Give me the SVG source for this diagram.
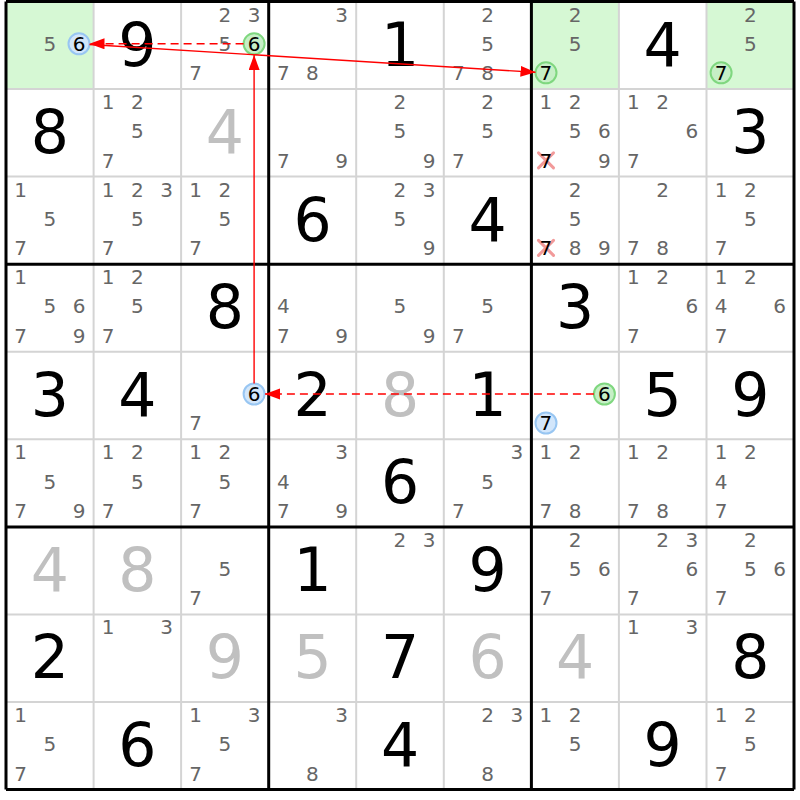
<svg xmlns="http://www.w3.org/2000/svg" width="800" height="800" viewBox="0 0 800 800">
<defs>
<style>
.c{font-family:"DejaVu Sans",Verdana,sans-serif;font-size:20px;fill:#666;text-anchor:middle}
.k{fill:#000}
.g{font-family:"DejaVu Sans",Verdana,sans-serif;font-size:60px;fill:#000;text-anchor:middle}
.s{fill:#c0c0c0}
.hl{fill:#d6f8d4}
.cb{fill:#d2e6fb;stroke:#98c6f2;stroke-width:2}
.cg{fill:#c6efc6;stroke:#7fd77f;stroke-width:2}
.x{stroke:#f29a9a;stroke-width:3;fill:none;stroke-linecap:round}
.thin{stroke:#d4d4d4;stroke-width:2}
.thick{stroke:#000;stroke-width:3}
.ar{stroke:#ff0000;stroke-width:1.4;fill:none;marker-end:url(#ah)}
.d{stroke-dasharray:8 5}
</style>
<marker id="ah" markerUnits="userSpaceOnUse" markerWidth="16" markerHeight="12" refX="15" refY="5.5" orient="auto"><path d="M0,0 L15,5.5 L0,11 z" fill="#ff0000"/></marker>
</defs>
<rect width="800" height="800" fill="#fff"/>
<g id="cells">
<!-- Row 1 -->
<g id="r1c1" transform="translate(6,1.5)"><rect class="hl" width="87.6" height="87.6"/><text class="c" x="43.8" y="49.3">5</text><circle class="cb" cx="73" cy="42.3" r="10.5"/><text class="c k" x="73" y="49.3">6</text></g>
<g id="r1c2" transform="translate(93.6,1.5)"><text class="g" x="43.8" y="64">9</text></g>
<g id="r1c3" transform="translate(181.1,1.5)"><text class="c" x="43.8" y="20.1">2</text><text class="c" x="73" y="20.1">3</text><text class="c" x="43.8" y="49.3">5</text><circle class="cg" cx="73" cy="42.3" r="10.5"/><text class="c k" x="73" y="49.3">6</text><text class="c" x="14.6" y="78.5">7</text></g>
<g id="r1c4" transform="translate(268.7,1.5)"><text class="c" x="73" y="20.1">3</text><text class="c" x="14.6" y="78.5">7</text><text class="c" x="43.8" y="78.5">8</text></g>
<g id="r1c5" transform="translate(356.2,1.5)"><text class="g" x="43.8" y="64">1</text></g>
<g id="r1c6" transform="translate(443.8,1.5)"><text class="c" x="43.8" y="20.1">2</text><text class="c" x="43.8" y="49.3">5</text><text class="c" x="14.6" y="78.5">7</text><text class="c" x="43.8" y="78.5">8</text></g>
<g id="r1c7" transform="translate(531.4,1.5)"><rect class="hl" width="87.6" height="87.6"/><text class="c" x="43.8" y="20.1">2</text><text class="c" x="43.8" y="49.3">5</text><circle class="cg" cx="14.6" cy="71.3" r="10.5"/><text class="c k" x="14.6" y="78.5">7</text></g>
<g id="r1c8" transform="translate(618.9,1.5)"><text class="g" x="43.8" y="64">4</text></g>
<g id="r1c9" transform="translate(706.5,1.5)"><rect class="hl" width="87.6" height="87.6"/><text class="c" x="43.8" y="20.1">2</text><text class="c" x="43.8" y="49.3">5</text><circle class="cg" cx="14.6" cy="71.3" r="10.5"/><text class="c k" x="14.6" y="78.5">7</text></g>
<!-- Row 2 -->
<g id="r2c1" transform="translate(6,89.1)"><text class="g" x="43.8" y="64">8</text></g>
<g id="r2c2" transform="translate(93.6,89.1)"><text class="c" x="14.6" y="20.1">1</text><text class="c" x="43.8" y="20.1">2</text><text class="c" x="43.8" y="49.3">5</text><text class="c" x="14.6" y="78.5">7</text></g>
<g id="r2c3" transform="translate(181.1,89.1)"><text class="g s" x="43.8" y="64">4</text></g>
<g id="r2c4" transform="translate(268.7,89.1)"><text class="c" x="14.6" y="78.5">7</text><text class="c" x="73" y="78.5">9</text></g>
<g id="r2c5" transform="translate(356.2,89.1)"><text class="c" x="43.8" y="20.1">2</text><text class="c" x="43.8" y="49.3">5</text><text class="c" x="73" y="78.5">9</text></g>
<g id="r2c6" transform="translate(443.8,89.1)"><text class="c" x="43.8" y="20.1">2</text><text class="c" x="43.8" y="49.3">5</text><text class="c" x="14.6" y="78.5">7</text></g>
<g id="r2c7" transform="translate(531.4,89.1)"><text class="c" x="14.6" y="20.1">1</text><text class="c" x="43.8" y="20.1">2</text><text class="c" x="43.8" y="49.3">5</text><text class="c" x="73" y="49.3">6</text><path class="x" d="M7.1,63.8 L22.1,78.8 M22.1,63.8 L7.1,78.8"/><text class="c k" x="14.6" y="78.5">7</text><text class="c" x="73" y="78.5">9</text></g>
<g id="r2c8" transform="translate(618.9,89.1)"><text class="c" x="14.6" y="20.1">1</text><text class="c" x="43.8" y="20.1">2</text><text class="c" x="73" y="49.3">6</text><text class="c" x="14.6" y="78.5">7</text></g>
<g id="r2c9" transform="translate(706.5,89.1)"><text class="g" x="43.8" y="64">3</text></g>
<!-- Row 3 -->
<g id="r3c1" transform="translate(6,176.6)"><text class="c" x="14.6" y="20.1">1</text><text class="c" x="43.8" y="49.3">5</text><text class="c" x="14.6" y="78.5">7</text></g>
<g id="r3c2" transform="translate(93.6,176.6)"><text class="c" x="14.6" y="20.1">1</text><text class="c" x="43.8" y="20.1">2</text><text class="c" x="73" y="20.1">3</text><text class="c" x="43.8" y="49.3">5</text><text class="c" x="14.6" y="78.5">7</text></g>
<g id="r3c3" transform="translate(181.1,176.6)"><text class="c" x="14.6" y="20.1">1</text><text class="c" x="43.8" y="20.1">2</text><text class="c" x="43.8" y="49.3">5</text><text class="c" x="14.6" y="78.5">7</text></g>
<g id="r3c4" transform="translate(268.7,176.6)"><text class="g" x="43.8" y="64">6</text></g>
<g id="r3c5" transform="translate(356.2,176.6)"><text class="c" x="43.8" y="20.1">2</text><text class="c" x="73" y="20.1">3</text><text class="c" x="43.8" y="49.3">5</text><text class="c" x="73" y="78.5">9</text></g>
<g id="r3c6" transform="translate(443.8,176.6)"><text class="g" x="43.8" y="64">4</text></g>
<g id="r3c7" transform="translate(531.4,176.6)"><text class="c" x="43.8" y="20.1">2</text><text class="c" x="43.8" y="49.3">5</text><path class="x" d="M7.1,63.8 L22.1,78.8 M22.1,63.8 L7.1,78.8"/><text class="c k" x="14.6" y="78.5">7</text><text class="c" x="43.8" y="78.5">8</text><text class="c" x="73" y="78.5">9</text></g>
<g id="r3c8" transform="translate(618.9,176.6)"><text class="c" x="43.8" y="20.1">2</text><text class="c" x="14.6" y="78.5">7</text><text class="c" x="43.8" y="78.5">8</text></g>
<g id="r3c9" transform="translate(706.5,176.6)"><text class="c" x="14.6" y="20.1">1</text><text class="c" x="43.8" y="20.1">2</text><text class="c" x="43.8" y="49.3">5</text><text class="c" x="14.6" y="78.5">7</text></g>
<!-- Row 4 -->
<g id="r4c1" transform="translate(6,264.2)"><text class="c" x="14.6" y="20.1">1</text><text class="c" x="43.8" y="49.3">5</text><text class="c" x="73" y="49.3">6</text><text class="c" x="14.6" y="78.5">7</text><text class="c" x="73" y="78.5">9</text></g>
<g id="r4c2" transform="translate(93.6,264.2)"><text class="c" x="14.6" y="20.1">1</text><text class="c" x="43.8" y="20.1">2</text><text class="c" x="43.8" y="49.3">5</text><text class="c" x="14.6" y="78.5">7</text></g>
<g id="r4c3" transform="translate(181.1,264.2)"><text class="g" x="43.8" y="64">8</text></g>
<g id="r4c4" transform="translate(268.7,264.2)"><text class="c" x="14.6" y="49.3">4</text><text class="c" x="14.6" y="78.5">7</text><text class="c" x="73" y="78.5">9</text></g>
<g id="r4c5" transform="translate(356.2,264.2)"><text class="c" x="43.8" y="49.3">5</text><text class="c" x="73" y="78.5">9</text></g>
<g id="r4c6" transform="translate(443.8,264.2)"><text class="c" x="43.8" y="49.3">5</text><text class="c" x="14.6" y="78.5">7</text></g>
<g id="r4c7" transform="translate(531.4,264.2)"><text class="g" x="43.8" y="64">3</text></g>
<g id="r4c8" transform="translate(618.9,264.2)"><text class="c" x="14.6" y="20.1">1</text><text class="c" x="43.8" y="20.1">2</text><text class="c" x="73" y="49.3">6</text><text class="c" x="14.6" y="78.5">7</text></g>
<g id="r4c9" transform="translate(706.5,264.2)"><text class="c" x="14.6" y="20.1">1</text><text class="c" x="43.8" y="20.1">2</text><text class="c" x="14.6" y="49.3">4</text><text class="c" x="73" y="49.3">6</text><text class="c" x="14.6" y="78.5">7</text></g>
<!-- Row 5 -->
<g id="r5c1" transform="translate(6,351.7)"><text class="g" x="43.8" y="64">3</text></g>
<g id="r5c2" transform="translate(93.6,351.7)"><text class="g" x="43.8" y="64">4</text></g>
<g id="r5c3" transform="translate(181.1,351.7)"><circle class="cb" cx="73" cy="42.3" r="10.5"/><text class="c k" x="73" y="49.3">6</text><text class="c" x="14.6" y="78.5">7</text></g>
<g id="r5c4" transform="translate(268.7,351.7)"><text class="g" x="43.8" y="64">2</text></g>
<g id="r5c5" transform="translate(356.2,351.7)"><text class="g s" x="43.8" y="64">8</text></g>
<g id="r5c6" transform="translate(443.8,351.7)"><text class="g" x="43.8" y="64">1</text></g>
<g id="r5c7" transform="translate(531.4,351.7)"><circle class="cg" cx="73" cy="42.3" r="10.5"/><text class="c k" x="73" y="49.3">6</text><circle class="cb" cx="14.6" cy="71.3" r="10.5"/><text class="c k" x="14.6" y="78.5">7</text></g>
<g id="r5c8" transform="translate(618.9,351.7)"><text class="g" x="43.8" y="64">5</text></g>
<g id="r5c9" transform="translate(706.5,351.7)"><text class="g" x="43.8" y="64">9</text></g>
<!-- Row 6 -->
<g id="r6c1" transform="translate(6,439.3)"><text class="c" x="14.6" y="20.1">1</text><text class="c" x="43.8" y="49.3">5</text><text class="c" x="14.6" y="78.5">7</text><text class="c" x="73" y="78.5">9</text></g>
<g id="r6c2" transform="translate(93.6,439.3)"><text class="c" x="14.6" y="20.1">1</text><text class="c" x="43.8" y="20.1">2</text><text class="c" x="43.8" y="49.3">5</text><text class="c" x="14.6" y="78.5">7</text></g>
<g id="r6c3" transform="translate(181.1,439.3)"><text class="c" x="14.6" y="20.1">1</text><text class="c" x="43.8" y="20.1">2</text><text class="c" x="43.8" y="49.3">5</text><text class="c" x="14.6" y="78.5">7</text></g>
<g id="r6c4" transform="translate(268.7,439.3)"><text class="c" x="73" y="20.1">3</text><text class="c" x="14.6" y="49.3">4</text><text class="c" x="14.6" y="78.5">7</text><text class="c" x="73" y="78.5">9</text></g>
<g id="r6c5" transform="translate(356.2,439.3)"><text class="g" x="43.8" y="64">6</text></g>
<g id="r6c6" transform="translate(443.8,439.3)"><text class="c" x="73" y="20.1">3</text><text class="c" x="43.8" y="49.3">5</text><text class="c" x="14.6" y="78.5">7</text></g>
<g id="r6c7" transform="translate(531.4,439.3)"><text class="c" x="14.6" y="20.1">1</text><text class="c" x="43.8" y="20.1">2</text><text class="c" x="14.6" y="78.5">7</text><text class="c" x="43.8" y="78.5">8</text></g>
<g id="r6c8" transform="translate(618.9,439.3)"><text class="c" x="14.6" y="20.1">1</text><text class="c" x="43.8" y="20.1">2</text><text class="c" x="14.6" y="78.5">7</text><text class="c" x="43.8" y="78.5">8</text></g>
<g id="r6c9" transform="translate(706.5,439.3)"><text class="c" x="14.6" y="20.1">1</text><text class="c" x="43.8" y="20.1">2</text><text class="c" x="14.6" y="49.3">4</text><text class="c" x="14.6" y="78.5">7</text></g>
<!-- Row 7 -->
<g id="r7c1" transform="translate(6,526.9)"><text class="g s" x="43.8" y="64">4</text></g>
<g id="r7c2" transform="translate(93.6,526.9)"><text class="g s" x="43.8" y="64">8</text></g>
<g id="r7c3" transform="translate(181.1,526.9)"><text class="c" x="43.8" y="49.3">5</text><text class="c" x="14.6" y="78.5">7</text></g>
<g id="r7c4" transform="translate(268.7,526.9)"><text class="g" x="43.8" y="64">1</text></g>
<g id="r7c5" transform="translate(356.2,526.9)"><text class="c" x="43.8" y="20.1">2</text><text class="c" x="73" y="20.1">3</text></g>
<g id="r7c6" transform="translate(443.8,526.9)"><text class="g" x="43.8" y="64">9</text></g>
<g id="r7c7" transform="translate(531.4,526.9)"><text class="c" x="43.8" y="20.1">2</text><text class="c" x="43.8" y="49.3">5</text><text class="c" x="73" y="49.3">6</text><text class="c" x="14.6" y="78.5">7</text></g>
<g id="r7c8" transform="translate(618.9,526.9)"><text class="c" x="43.8" y="20.1">2</text><text class="c" x="73" y="20.1">3</text><text class="c" x="73" y="49.3">6</text><text class="c" x="14.6" y="78.5">7</text></g>
<g id="r7c9" transform="translate(706.5,526.9)"><text class="c" x="43.8" y="20.1">2</text><text class="c" x="43.8" y="49.3">5</text><text class="c" x="73" y="49.3">6</text><text class="c" x="14.6" y="78.5">7</text></g>
<!-- Row 8 -->
<g id="r8c1" transform="translate(6,614.4)"><text class="g" x="43.8" y="64">2</text></g>
<g id="r8c2" transform="translate(93.6,614.4)"><text class="c" x="14.6" y="20.1">1</text><text class="c" x="73" y="20.1">3</text></g>
<g id="r8c3" transform="translate(181.1,614.4)"><text class="g s" x="43.8" y="64">9</text></g>
<g id="r8c4" transform="translate(268.7,614.4)"><text class="g s" x="43.8" y="64">5</text></g>
<g id="r8c5" transform="translate(356.2,614.4)"><text class="g" x="43.8" y="64">7</text></g>
<g id="r8c6" transform="translate(443.8,614.4)"><text class="g s" x="43.8" y="64">6</text></g>
<g id="r8c7" transform="translate(531.4,614.4)"><text class="g s" x="43.8" y="64">4</text></g>
<g id="r8c8" transform="translate(618.9,614.4)"><text class="c" x="14.6" y="20.1">1</text><text class="c" x="73" y="20.1">3</text></g>
<g id="r8c9" transform="translate(706.5,614.4)"><text class="g" x="43.8" y="64">8</text></g>
<!-- Row 9 -->
<g id="r9c1" transform="translate(6,702)"><text class="c" x="14.6" y="20.1">1</text><text class="c" x="43.8" y="49.3">5</text><text class="c" x="14.6" y="78.5">7</text></g>
<g id="r9c2" transform="translate(93.6,702)"><text class="g" x="43.8" y="64">6</text></g>
<g id="r9c3" transform="translate(181.1,702)"><text class="c" x="14.6" y="20.1">1</text><text class="c" x="73" y="20.1">3</text><text class="c" x="43.8" y="49.3">5</text><text class="c" x="14.6" y="78.5">7</text></g>
<g id="r9c4" transform="translate(268.7,702)"><text class="c" x="73" y="20.1">3</text><text class="c" x="43.8" y="78.5">8</text></g>
<g id="r9c5" transform="translate(356.2,702)"><text class="g" x="43.8" y="64">4</text></g>
<g id="r9c6" transform="translate(443.8,702)"><text class="c" x="43.8" y="20.1">2</text><text class="c" x="73" y="20.1">3</text><text class="c" x="43.8" y="78.5">8</text></g>
<g id="r9c7" transform="translate(531.4,702)"><text class="c" x="14.6" y="20.1">1</text><text class="c" x="43.8" y="20.1">2</text><text class="c" x="43.8" y="49.3">5</text></g>
<g id="r9c8" transform="translate(618.9,702)"><text class="g" x="43.8" y="64">9</text></g>
<g id="r9c9" transform="translate(706.5,702)"><text class="c" x="14.6" y="20.1">1</text><text class="c" x="43.8" y="20.1">2</text><text class="c" x="43.8" y="49.3">5</text><text class="c" x="14.6" y="78.5">7</text></g>
</g>
<g id="grid">
<path class="thin" d="M93.6,1.5V789.5M181.1,1.5V789.5M356.2,1.5V789.5M443.8,1.5V789.5M618.9,1.5V789.5M706.5,1.5V789.5M6,89.1H794M6,176.6H794M6,351.7H794M6,439.3H794M6,614.4H794M6,702H794"/>
<path class="thick" d="M6,1.5V789.5M268.7,1.5V789.5M531.4,1.5V789.5M794,1.5V789.5M6,1.5H794M6,264.2H794M6,526.9H794M6,789.5H794"/>
</g>
<g id="connectors">
<line class="ar d" x1="243.6" y1="43.8" x2="89.5" y2="43.8"/>
<line class="ar" x1="254.1" y1="383.5" x2="254.1" y2="55"/>
<line class="ar" x1="89.5" y1="44.5" x2="535.5" y2="72.3"/>
<line class="ar d" x1="593.9" y1="394" x2="265" y2="394"/>
</g>
</svg>
